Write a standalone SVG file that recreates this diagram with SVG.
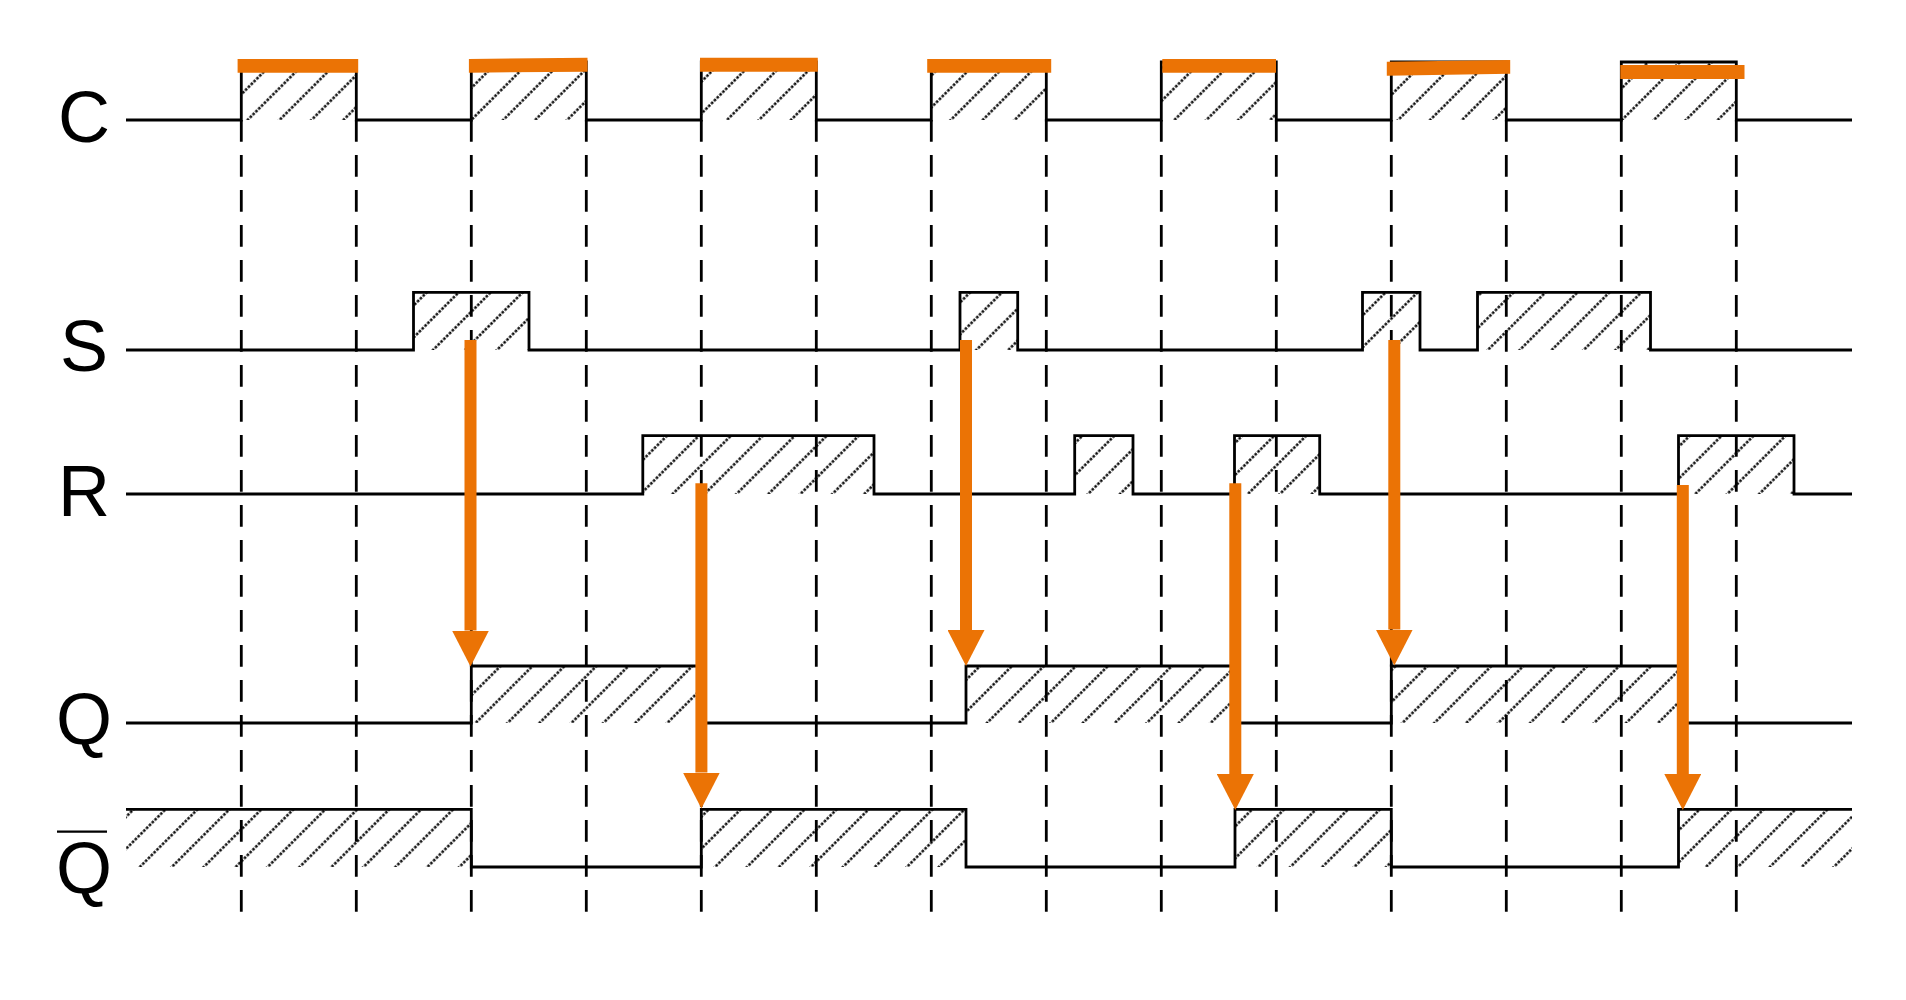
<svg xmlns="http://www.w3.org/2000/svg" width="1906" height="1000" viewBox="0 0 1906 1000">
<style>
  .lbl { font-family: "Liberation Sans", Arial, sans-serif; font-size: 72px; fill: #000; text-anchor: middle; }
  .sig { fill: none; stroke: #000; stroke-width: 2.8; stroke-linejoin: miter; }
  .hat { fill: url(#hatch); stroke: none; }
  .grid { stroke: #000; stroke-width: 2.8; stroke-dasharray: 21.7 13.3; fill: none; }
  .bar { fill: #EB7305; stroke: none; }
  .arr { stroke: #EB7305; stroke-width: 12; fill: none; marker-end: url(#head); }
</style>
<defs>
  <pattern id="hatch" patternUnits="userSpaceOnUse" width="22.6" height="4" patternTransform="rotate(45)">
    <line x1="11.3" y1="0" x2="11.3" y2="2.6" stroke="#000" stroke-width="2.4"/>
  </pattern>
  <marker id="head" markerUnits="userSpaceOnUse" viewBox="0 -18.5 36 37" refX="0" refY="0" markerWidth="36" markerHeight="37" orient="auto">
    <path d="M0,-18.5 L36,0 L0,18.5 Z" fill="#EB7305"/>
  </marker>
</defs>
<rect x="0" y="0" width="1906" height="1000" fill="#fff"/>

<g id="grid">
  <line class="grid" x1="241.3" y1="120" x2="241.3" y2="912"/>
  <line class="grid" x1="356.3" y1="120" x2="356.3" y2="912"/>
  <line class="grid" x1="471.3" y1="120" x2="471.3" y2="912"/>
  <line class="grid" x1="586.3" y1="120" x2="586.3" y2="912"/>
  <line class="grid" x1="701.3" y1="120" x2="701.3" y2="912"/>
  <line class="grid" x1="816.3" y1="120" x2="816.3" y2="912"/>
  <line class="grid" x1="931.3" y1="120" x2="931.3" y2="912"/>
  <line class="grid" x1="1046.3" y1="120" x2="1046.3" y2="912"/>
  <line class="grid" x1="1161.3" y1="120" x2="1161.3" y2="912"/>
  <line class="grid" x1="1276.3" y1="120" x2="1276.3" y2="912"/>
  <line class="grid" x1="1391.3" y1="120" x2="1391.3" y2="912"/>
  <line class="grid" x1="1506.3" y1="120" x2="1506.3" y2="912"/>
  <line class="grid" x1="1621.3" y1="120" x2="1621.3" y2="912"/>
  <line class="grid" x1="1736.3" y1="120" x2="1736.3" y2="912"/>
</g>

<g id="signal-C">
  <text class="lbl" x="84" y="142">C</text>
  <rect class="hat" x="241.3" y="62" width="115" height="58"/>
  <rect class="hat" x="471.3" y="62" width="115" height="58"/>
  <rect class="hat" x="701.3" y="62" width="115" height="58"/>
  <rect class="hat" x="931.3" y="62" width="115" height="58"/>
  <rect class="hat" x="1161.3" y="62" width="115" height="58"/>
  <rect class="hat" x="1391.3" y="62" width="115" height="58"/>
  <rect class="hat" x="1621.3" y="62" width="115" height="58"/>
  <polyline class="sig" points="126,120 241.3,120 241.3,62 356.3,62 356.3,120 471.3,120 471.3,62 586.3,62 586.3,120 701.3,120 701.3,62 816.3,62 816.3,120 931.3,120 931.3,62 1046.3,62 1046.3,120 1161.3,120 1161.3,62 1276.3,62 1276.3,120 1391.3,120 1391.3,62 1506.3,62 1506.3,120 1621.3,120 1621.3,62 1736.3,62 1736.3,120 1852,120"/>
</g>

<g id="clock-marks">
  <polygon class="bar" points="237.6,59 358.2,59 358.2,72.7 237.6,72.7"/>
  <polygon class="bar" points="468.9,59 587.5,57.7 587.5,71.7 468.9,72.7"/>
  <polygon class="bar" points="700,57.7 817.8,57.7 817.8,71.7 700,71.7"/>
  <polygon class="bar" points="927.2,59 1051.2,59 1051.2,72.7 927.2,72.7"/>
  <polygon class="bar" points="1162.3,59 1276,59 1276,72.7 1162.3,72.7"/>
  <polygon class="bar" points="1386.8,61.7 1510.2,60 1510.2,73.7 1386.8,75.7"/>
  <polygon class="bar" points="1620.3,65 1744.5,65 1744.5,79 1620.3,79"/>
</g>

<g id="signal-S">
  <text class="lbl" x="84" y="371">S</text>
  <rect class="hat" x="413.5" y="292.3" width="115.5" height="57.7"/>
  <rect class="hat" x="960" y="292.3" width="57.7" height="57.7"/>
  <rect class="hat" x="1362.5" y="292.3" width="57.5" height="57.7"/>
  <rect class="hat" x="1477.5" y="292.3" width="173" height="57.7"/>
  <polyline class="sig" points="126,350 413.5,350 413.5,292.3 529,292.3 529,350 960,350 960,292.3 1017.7,292.3 1017.7,350 1362.5,350 1362.5,292.3 1420,292.3 1420,350 1477.5,350 1477.5,292.3 1650.5,292.3 1650.5,350 1852,350"/>
</g>

<g id="signal-R">
  <text class="lbl" x="84" y="516">R</text>
  <rect class="hat" x="642.8" y="435.7" width="231.2" height="58.3"/>
  <rect class="hat" x="1074.7" y="435.7" width="58.3" height="58.3"/>
  <rect class="hat" x="1234.5" y="435.7" width="85.2" height="58.3"/>
  <rect class="hat" x="1678.5" y="435.7" width="115.5" height="58.3"/>
  <polyline class="sig" points="126,494 642.8,494 642.8,435.7 874,435.7 874,494 1074.7,494 1074.7,435.7 1133,435.7 1133,494 1234.5,494 1234.5,435.7 1319.7,435.7 1319.7,494 1678.5,494 1678.5,435.7 1794,435.7 1794,494 1852,494"/>
</g>

<g id="signal-Q">
  <text class="lbl" x="84" y="744">Q</text>
  <rect class="hat" x="471.3" y="666" width="230" height="57"/>
  <rect class="hat" x="966" y="666" width="269" height="57"/>
  <rect class="hat" x="1391.3" y="666" width="287.2" height="57"/>
  <polyline class="sig" points="126,723 471.3,723 471.3,666 701.3,666 701.3,723 966,723 966,666 1235,666 1235,723 1391.3,723 1391.3,666 1678.5,666 1678.5,723 1852,723"/>
</g>

<g id="signal-Qbar">
  <text class="lbl" x="84" y="893">Q</text>
  <line x1="57" y1="831.7" x2="107" y2="831.7" stroke="#000" stroke-width="2.2"/>
  <rect class="hat" x="126" y="809.3" width="345.3" height="57.7"/>
  <rect class="hat" x="701.3" y="809.3" width="264.7" height="57.7"/>
  <rect class="hat" x="1235" y="809.3" width="156.3" height="57.7"/>
  <rect class="hat" x="1678.5" y="809.3" width="173.5" height="57.7"/>
  <polyline class="sig" points="126,809.3 471.3,809.3 471.3,867 701.3,867 701.3,809.3 966,809.3 966,867 1235,867 1235,809.3 1391.3,809.3 1391.3,867 1678.5,867 1678.5,809.3 1852,809.3"/>
</g>

<g id="connectors">
  <line class="arr" x1="470.5" y1="340" x2="470.5" y2="630.5"/>
  <line class="arr" x1="701.4" y1="483.3" x2="701.4" y2="772.5"/>
  <line class="arr" x1="966" y1="340" x2="966" y2="630"/>
  <line class="arr" x1="1235.3" y1="483.3" x2="1235.3" y2="774"/>
  <line class="arr" x1="1394.3" y1="340" x2="1394.3" y2="629.5"/>
  <line class="arr" x1="1682.8" y1="485" x2="1682.8" y2="774"/>
</g>
</svg>
